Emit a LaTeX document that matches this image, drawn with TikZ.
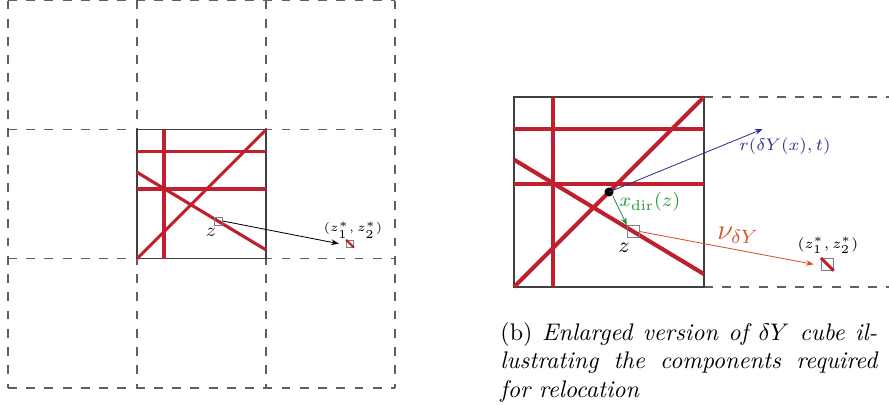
\documentclass[tikz,border=0pt]{standalone}
\usetikzlibrary{arrows.meta}
\definecolor{cred}{RGB}{192,32,45}
\definecolor{cblue}{RGB}{50,50,140}
\definecolor{cgreen}{RGB}{40,150,60}
\definecolor{corange}{RGB}{215,80,40}
\definecolor{cgrid}{RGB}{95,95,95}
\begin{document}
\begin{tikzpicture}[x=0.4167pt,y=-0.4167pt,
  gridl/.style={cgrid, line width=0.45pt, dash pattern=on 3.7pt off 3.9pt},
  boxl/.style={draw=black!75, line width=0.45pt},
  redthin/.style={cred, line width=1.3pt},
  redthick/.style={cred, line width=1.7pt},
  sq/.style={draw=black!50, line width=0.35pt, minimum size=#1, inner sep=0pt},
  lbl/.style={inner sep=0pt},
  arr/.style={-{Stealth[length=3.2pt,width=2.4pt]}, line width=0.35pt}
]
\useasboundingbox (0,0) rectangle (889,404);
% ---------- left: grid ----------
\foreach \x in {8,137,266,395} \draw[gridl] (\x,0.5) -- (\x,388);
\foreach \y in {0.5,129.7,258.7,388} \draw[gridl] (8,\y) -- (395,\y);
% central cell
\draw[boxl] (137,129.7) rectangle (266,258.7);
\draw[redthin] (164,129.7) -- (164,258.7);
\draw[redthin] (137,151.6) -- (266,151.6);
\draw[redthin] (137,189.0) -- (266,189.0);
\draw[redthin] (137,258.7) -- (266,129.7);
\draw[redthin] (137,172.3) -- (266,249.9);
\node[sq=8*0.4167pt] (za) at (218.3,221) {};
\node[lbl, font=\footnotesize, text=black!80] (zalbl) at (211,232) {$z$};
\node[sq=7*0.4167pt] (ta) at (350,243.7) {};
\draw[cred, line width=0.9pt] (ta.north west) -- (ta.south east);
\node[lbl, font=\fontsize{4.3}{5}\selectfont] (talbl) at (353,230) {$(z_1^*,z_2^*)$};
\draw[arr, black] (za.east) -- ([xshift=-3pt]ta.west);
% ---------- right: enlarged cube ----------
\draw[gridl] (704,97) -- (889,97);
\draw[gridl] (704,287) -- (889,287);
\draw[boxl] (514,97) rectangle (704,287);
\draw[redthick] (553.3,97) -- (553.3,287);
\draw[redthick] (514,129.3) -- (704,129.3);
\draw[redthick] (514,184.4) -- (704,184.4);
\draw[redthick] (514,287) -- (704,97);
\draw[redthick] (514,159.7) -- (704,274.1);
\node[sq=12*0.4167pt] (zb) at (633.3,231.5) {};
\node[lbl, font=\small] (zblbl) at (624,248) {$z$};
\node[circle, fill=black, inner sep=0pt, minimum size=9*0.4167pt] (dot) at (609,192) {};
\coordinate (rend) at (762.7,129);
\draw[arr, cblue] (dot.center) -- (rend);
\node[lbl, cblue, font=\fontsize{7.5}{9}\selectfont] (rlbl) at (785,146) {$r(\delta Y(x),t)$};
\draw[arr, cgreen] (dot.south east) -- (zb.north west);
\node[lbl, cgreen, font=\footnotesize] (xlbl) at (650,202) {$x_{\mathrm{dir}}(z)$};
\node[sq=12*0.4167pt] (tb) at (827.3,264.3) {};
\draw[redthin] (tb.north west) -- (tb.south east);
\node[lbl, font=\fontsize{6.5}{8}\selectfont] (tblbl) at (828,245) {$(z_1^*,z_2^*)$};
\draw[arr, corange] (zb.east) -- ([xshift=-3pt]tb.west);
\node[lbl, corange, font=\large] (nulbl) at (738,235) {$\nu_{\delta Y}$};
% caption
\node[lbl, anchor=north west, text width=157pt, align=justify,
      font=\fontsize{10}{12}\selectfont] (cap) at (500,322)
  {\baselineskip=11.8pt (b) \textit{Enlarged version of $\delta Y$ cube il-\linebreak lustrating the components required\linebreak for relocation}\par};
\end{tikzpicture}
\end{document}
